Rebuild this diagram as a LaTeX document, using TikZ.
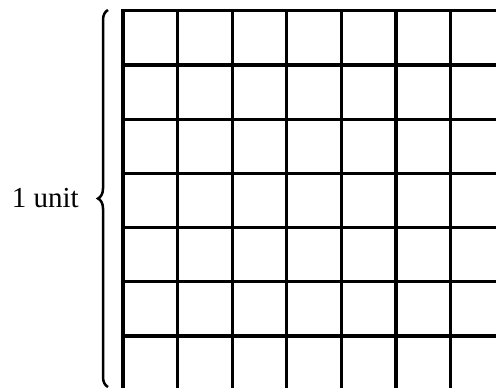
\documentclass[tikz,border=0pt]{standalone}
\usepackage{fontspec}
\setmainfont{Liberation Serif}
\usetikzlibrary{decorations.pathreplacing,positioning}

\begin{document}
\begin{tikzpicture}[x=1pt,y=-1pt,gridline/.style={line width=3.2pt,line cap=rect},bracket/.style={decorate,decoration={brace,amplitude=10pt},line width=2.5pt}]
      \useasboundingbox (0,0) rectangle (496,388);
      \foreach \i in {0,...,6}
        \draw[gridline] ({123+54.6*\i},10.7) -- ({123+54.6*\i},392);
      \foreach \j in {0,...,6}
        \draw[gridline] (123,{10.7+54.2*\j}) -- (500,{10.7+54.2*\j});
      \coordinate (top) at (108,10);
      \coordinate (bot) at (108,387);
      \draw[bracket] (bot) -- (top) node[midway,left=28pt,inner sep=0pt,font=\fontsize{29}{34}\selectfont] (lbl) {1 unit};
    \end{tikzpicture}
\end{document}
